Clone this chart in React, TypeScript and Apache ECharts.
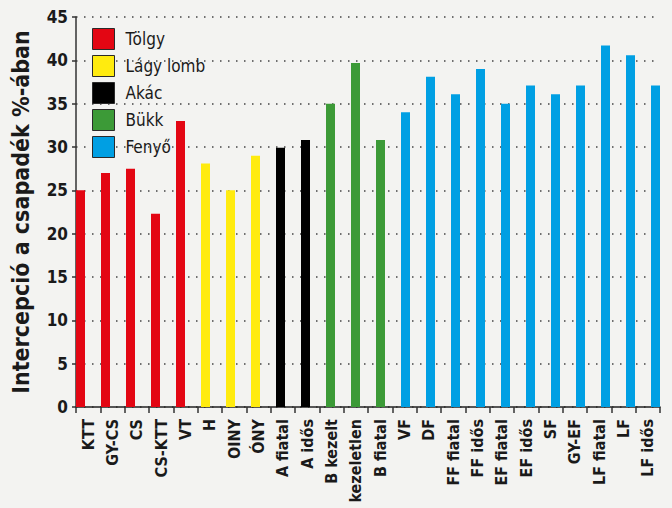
import React, { useEffect, useRef } from "react";
import * as echarts from "echarts";

const categories = [
  "KTT", "GY-CS", "CS", "CS-KTT", "VT",
  "H", "OINY", "ÓNY",
  "A fiatal", "A idős",
  "B kezelt", "B kezeletlen", "B fiatal",
  "VF", "DF", "FF fiatal", "FF idős", "EF fiatal", "EF idős", "SF", "GY-EF", "LF fiatal", "LF", "LF idős",
];
const values = [
  25.0, 27.0, 27.5, 22.3, 33.0,
  28.1, 25.0, 29.0,
  29.9, 30.8,
  35.0, 39.7, 30.8,
  34.0, 38.1, 36.1, 39.0, 35.0, 37.1, 36.1, 37.1, 41.7, 40.6, 37.1,
];
const groupOfCategory = [
  0, 0, 0, 0, 0,
  1, 1, 1,
  2, 2,
  3, 3, 3,
  4, 4, 4, 4, 4, 4, 4, 4, 4, 4, 4,
];
const groupNames = ["Tölgy", "Lágy lomb", "Akác", "Bükk", "Fenyő"];
const groupColors = ["#e30613", "#ffeb0f", "#000000", "#3c9a37", "#009fe3"];
const yTicks = [0, 5, 10, 15, 20, 25, 30, 35, 40, 45];
const yTitle = "Intercepció a csapadék %-ában";

const FONT = "'DejaVu Sans Condensed', 'DejaVu Sans', sans-serif";
const TXT = "#1a1a1a";

export default function App() {
  const ref = useRef<HTMLDivElement>(null);
  useEffect(() => {
    document.body.style.margin = "0";
    const chart = echarts.init(ref.current!, null, { renderer: "svg" });
    const yMin = yTicks[0];
    const yMax = yTicks[yTicks.length - 1];
    const option: any = {
      animation: false,
      backgroundColor: "#f3f3f1",
      textStyle: { fontFamily: FONT },
      legend: {
        orient: "vertical",
        left: 87,
        top: 23,
        itemWidth: 22,
        itemHeight: 21,
        itemGap: 5,
        icon: "rect",
        itemStyle: { borderColor: "#2a2a2a", borderWidth: 1 },
        textStyle: { fontFamily: FONT, fontSize: 17, color: TXT, padding: [0, 0, 0, 6] },
        data: groupNames,
      },
      grid: [
        { left: 76, right: 12, top: 17, bottom: 101, containLabel: false, outerBoundsMode: "none" },
        { left: 80.5, right: 16.5, top: 17, bottom: 101, containLabel: false, outerBoundsMode: "none" },
      ],
      xAxis: [
        {
          type: "category",
          gridIndex: 0,
          data: categories,
          axisLine: { lineStyle: { color: "#222", width: 1.5 } },
          axisTick: { show: true, length: 6, lineStyle: { color: "#333", width: 1.5 } },
          axisLabel: {
            rotate: 90,
            interval: 0,
            margin: 12,
            fontFamily: FONT,
            fontWeight: "bold",
            fontSize: 16,
            color: TXT,
          },
        },
        {
          type: "category",
          gridIndex: 1,
          data: categories,
          boundaryGap: false,
          show: false,
        },
      ],
      yAxis: [
        {
          type: "value",
          gridIndex: 0,
          min: yMin,
          max: yMax,
          interval: 5,
          name: yTitle,
          nameLocation: "middle",
          nameGap: 44,
          nameTextStyle: { fontFamily: FONT, fontWeight: "bold", fontSize: 23, color: TXT },
          axisLine: { show: true, lineStyle: { color: "#333", width: 1.5 } },
          axisTick: { show: true, length: 4, lineStyle: { color: "#333", width: 1.5 } },
          axisLabel: { margin: 8, fontFamily: FONT, fontWeight: "bold", fontSize: 17, color: TXT },
          splitLine: { show: true, lineStyle: { color: "#444", width: 1.5, type: [1.5, 6.5] } },
        },
        {
          type: "value",
          gridIndex: 1,
          min: yMin,
          max: yMax,
          interval: 5,
          show: false,
          splitLine: { show: false },
        },
      ],
      series: groupNames.map((name, g) => ({
        name,
        type: "bar",
        xAxisIndex: 1,
        yAxisIndex: 1,
        barWidth: 9,
        barGap: "-100%",
        itemStyle: { color: groupColors[g] },
        data: values.map((v, i) => (groupOfCategory[i] === g ? v : "-")),
      })),
    };
    chart.setOption(option);
    return () => chart.dispose();
  }, []);
  return (
    <div
      ref={ref}
      style={{ position: "fixed", left: 0, top: 0, width: 672, height: 508 }}
    />
  );
}
